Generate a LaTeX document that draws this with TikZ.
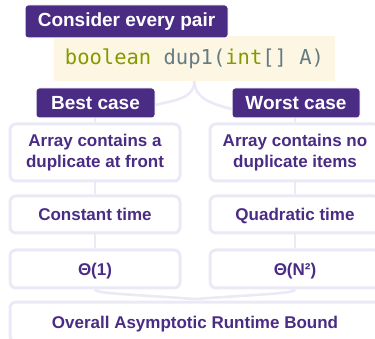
\documentclass[tikz,border=0pt]{standalone}
\usepackage{fontspec}
\setmainfont{Liberation Sans}
\newfontfamily\codefont{DejaVu Sans Mono}
\definecolor{purp}{HTML}{4B2C85}
\definecolor{lav}{HTML}{ECE9F7}
\definecolor{cream}{HTML}{FDF6E3}
\definecolor{solgreen}{HTML}{859900}
\definecolor{solgray}{HTML}{657B83}
\tikzset{
  lbl/.style={fill=purp, draw=white, line width=1pt, rounded corners=3pt, text=white,
    font=\fontsize{19}{22}\selectfont\bfseries, inner sep=0pt, minimum height=30pt},
  box/.style={draw=lav, line width=3pt, rounded corners=6pt, text=purp,
    font=\fontsize{17}{21}\selectfont\bfseries, align=center, inner sep=0pt, minimum width=170pt},
  oneline/.style={text height=12.5pt, text depth=0pt},
  conn/.style={draw=lav, line width=2.6pt}
}
\begin{document}
\begin{tikzpicture}[x=1pt,y=-1pt]
\path[use as bounding box, fill=white] (0,0) rectangle (375,339);
\clip (0,0) rectangle (375,339);
% code box
\node[fill=cream, minimum width=281pt, minimum height=45pt, inner sep=0pt,
  font=\codefont\fontsize{20.5}{24}\selectfont] (code) at (194.5,58.5)
  {\textcolor{solgreen}{boolean} \textcolor{solgray}{dup1(}\textcolor{solgreen}{int}\textcolor{solgray}{[] A)}};
\node[lbl, minimum width=203pt, minimum height=33pt] (consider) at (126.5,21.5) {Consider every pair};
% boxes
\node[box, minimum height=57pt] (b1L) at (95,152.5) {Array contains a\\duplicate at front};
\node[box, minimum height=57pt] (b1R) at (295,152.5) {Array contains no\\duplicate items};
\node[box, oneline, minimum height=37pt] (b2L) at (95,214.5) {Constant time};
\node[box, oneline, minimum height=37pt] (b2R) at (295,214.5) {Quadratic time};
\node[box, oneline, minimum height=38pt] (b3L) at (95,269) {Θ(1)};
\node[box, oneline, minimum height=38pt] (b3R) at (295,269) {Θ(N²)};
\node[box, oneline, minimum width=370pt, minimum height=40pt] (bot) at (195,322) {Overall Asymptotic Runtime Bound};
% labels
\node[lbl, minimum width=119pt] (best) at (95.5,103) {Best case};
\node[lbl, minimum width=128pt] (worst) at (296,103) {Worst case};
% connectors
\draw[conn] (code.south) to[out=-90,in=15] ([yshift=-2pt]best.east);
\draw[conn] (code.south) to[out=-90,in=165] ([yshift=-6pt]worst.west);
\draw[conn] (b1L.north |- best.south) -- (b1L.north);
\draw[conn] (b1R.north |- worst.south) -- (b1R.north);
\draw[conn] (b1L) -- (b2L);
\draw[conn] (b1R) -- (b2R);
\draw[conn] (b2L) -- (b3L);
\draw[conn] (b2R) -- (b3R);
\draw[conn] (b3L.south) .. controls +(1,4) and +(-70,-5) .. ([yshift=1.5pt]bot.north);
\draw[conn] (b3R.south) .. controls +(-1,4) and +(70,-5) .. ([yshift=1.5pt]bot.north);
\end{tikzpicture}
\end{document}
